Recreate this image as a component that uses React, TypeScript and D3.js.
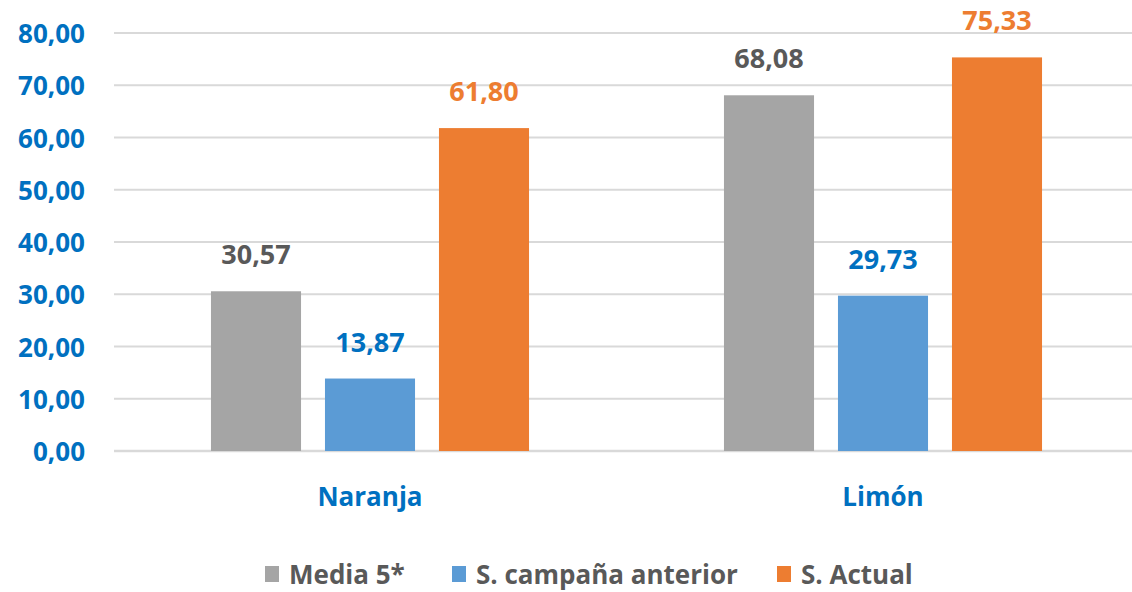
import React from "react";
import * as d3 from "d3";

const categories = ["Naranja", "Limón"];
const seriesNames = ["Media 5*", "S. campaña anterior", "S. Actual"];
const media5 = [30.57, 68.08];
const campanaAnterior = [13.87, 29.73];
const actual = [61.8, 75.33];
const yTicks = [0, 10, 20, 30, 40, 50, 60, 70, 80];

const seriesValues = [media5, campanaAnterior, actual];
const barColors = ["#A5A5A5", "#5B9BD5", "#ED7D31"];
const labelColors = ["#595959", "#0070C0", "#ED7D31"];
const legendX = [265, 452, 777];

const W = 1132;
const H = 592;
const FONT = "'Open Sans', sans-serif";

const fmt = (v: number) => d3.format(".2f")(v).replace(".", ",");

export default function App() {
  const y = d3.scaleLinear().domain([0, 80]).range([451, 33]);
  const x0 = d3.scaleBand<string>().domain(categories).range([113.5, 1139.5]).paddingInner(0).paddingOuter(0);
  const x1 = d3
    .scaleBand<string>()
    .domain(seriesNames)
    .range([0, x0.bandwidth()])
    .paddingInner(0.21)
    .paddingOuter(0.855);

  return (
    <svg
      width={W}
      height={H}
      style={{ position: "absolute", left: 0, top: 0, background: "#fff" }}
      fontFamily={FONT}
    >
      {yTicks.map((t) => (
        <g key={t}>
          <line x1={114} x2={W} y1={y(t)} y2={y(t)} stroke="#D9D9D9" strokeWidth={t === 0 ? 2.5 : 2} />
          <text
            x={85}
            y={y(t)}
            textAnchor="end"
            dominantBaseline="central"
            fill="#0070C0"
            fontSize={26}
            fontWeight={700}
          >
            {fmt(t)}
          </text>
        </g>
      ))}
      {categories.map((c, ci) => (
        <g key={c} transform={`translate(${x0(c)},0)`}>
          {seriesNames.map((s, si) => {
            const v = seriesValues[si][ci];
            const bx = x1(s)!;
            return (
              <g key={s}>
                <rect x={bx} y={y(v)} width={x1.bandwidth()} height={y(0) - y(v)} fill={barColors[si]} />
                <text
                  x={bx + x1.bandwidth() / 2}
                  y={y(v) - 27}
                  textAnchor="middle"
                  fill={labelColors[si]}
                  fontSize={27}
                  fontWeight={700}
                >
                  {fmt(v)}
                </text>
              </g>
            );
          })}
          <text
            x={x0.bandwidth() / 2}
            y={506}
            textAnchor="middle"
            fill="#0070C0"
            fontSize={26}
            fontWeight={700}
          >
            {c}
          </text>
        </g>
      ))}
      {seriesNames.map((s, si) => (
        <g key={s} transform={`translate(${legendX[si]},574)`}>
          <rect x={0} y={-8} width={14} height={16} fill={barColors[si]} />
          <text x={24} y={0} dominantBaseline="central" fill="#595959" fontSize={26} fontWeight={700}>
            {s}
          </text>
        </g>
      ))}
    </svg>
  );
}
